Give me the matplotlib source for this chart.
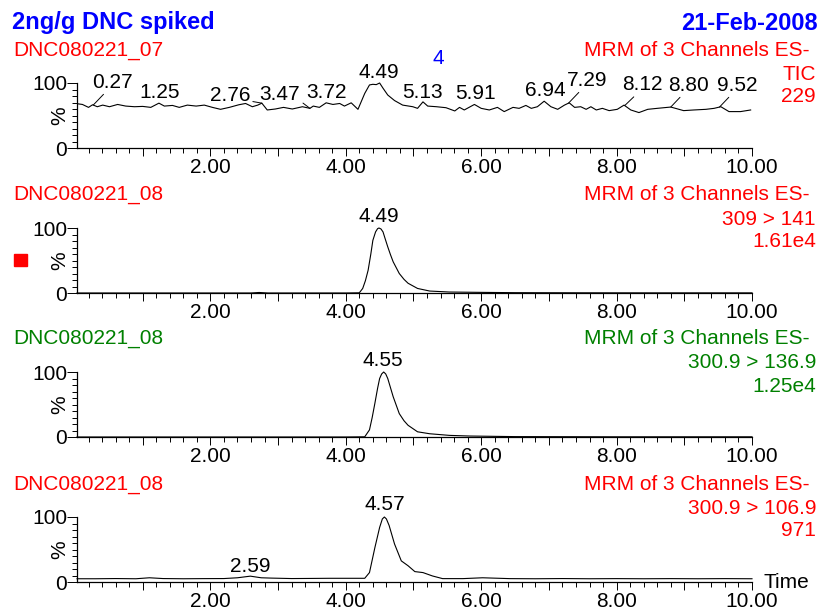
import numpy as np
import matplotlib
matplotlib.use("Agg")
import matplotlib.pyplot as plt
from matplotlib.ticker import MultipleLocator, FuncFormatter
from matplotlib.patches import Rectangle

plt.rcParams['font.family'] = ['Liberation Sans', 'DejaVu Sans']

# Header texts
title = "2ng/g DNC spiked"
date = "21-Feb-2008"
sample_no = "4"

# Panel info
files = ["DNC080221_07", "DNC080221_08", "DNC080221_08", "DNC080221_08"]
scan = "MRM of 3 Channels ES-"
channels = ["TIC", "309 > 141", "300.9 > 136.9", "300.9 > 106.9"]
intensity = ["229", "1.61e4", "1.25e4", "971"]
colors = ["#ff0000", "#ff0000", "#008000", "#ff0000"]

# Trace 1: TIC
t1 = [0.04, 0.11, 0.20, 0.26, 0.33, 0.41, 0.51, 0.63, 0.75, 0.88, 1.00, 1.12, 1.24, 1.32,
      1.44, 1.54, 1.66, 1.79, 1.91, 2.03, 2.15, 2.28, 2.42, 2.52, 2.62, 2.70, 2.76, 2.84,
      2.96, 3.08, 3.21, 3.36, 3.47, 3.52, 3.61, 3.71, 3.81, 3.91, 3.98, 4.08, 4.18, 4.28,
      4.35, 4.40, 4.45, 4.50, 4.55, 4.62, 4.72, 4.84, 4.99, 5.06, 5.14, 5.21, 5.34, 5.48, 5.61,
      5.68, 5.75, 5.90, 6.00, 6.12, 6.24, 6.34, 6.47, 6.56, 6.66, 6.74, 6.83, 6.93, 7.03,
      7.13, 7.23, 7.30, 7.38, 7.47, 7.55, 7.62, 7.70, 7.79, 7.89, 8.01, 8.11, 8.21, 8.33,
      8.46, 8.60, 8.75, 8.80, 8.87, 8.99, 9.14, 9.32, 9.44, 9.54, 9.66, 9.83, 9.98]
v1 = [68, 67, 62.5, 66.5, 63.5, 66, 63.5, 67, 64.5, 63.5, 64, 62.5, 69, 64.5,
      65.5, 62.5, 66, 64.5, 66, 62.5, 59.5, 62.5, 66.5, 68.5, 63.5, 66, 69, 58.5,
      60, 62.5, 60, 63.5, 61, 64.5, 62.5, 69.5, 67, 68.5, 64.5, 69.5, 59.5, 84,
      97, 98, 97.5, 100, 92, 81.5, 73, 66, 63.5, 61, 71, 64.5, 63.5, 62, 57,
      62.5, 58.5, 67, 61, 58.5, 62.5, 56, 62.5, 61, 65.5, 61, 63.5, 72, 63.5,
      59.5, 66, 69.5, 62.5, 63.5, 59.5, 63.5, 58.5, 61, 57.5, 59.5, 66, 58.5, 54.5,
      59.5, 61, 62.5, 63, 61, 57.5, 58.5, 59.5, 61, 63.5, 56, 56, 58.5]

# Trace 2: 309 > 141
t2 = [0.03, 1.0, 2.0, 2.6, 2.72, 2.85, 3.5, 4.0, 4.20, 4.25, 4.29, 4.33, 4.37, 4.40, 4.44,
      4.47, 4.49, 4.52, 4.55, 4.58, 4.62, 4.66, 4.70, 4.79, 4.86, 4.92, 5.06, 5.24, 5.53,
      5.97, 6.5, 7.5, 8.5, 10.0]
v2 = [0, 0, 0, 0, 0.8, 0, 0, 0, 0.3, 7, 19, 35, 60, 81, 94,
      99, 100, 98.5, 94, 84, 71, 59, 48, 30, 21, 15, 7, 3, 1.5,
      1, 0.5, 0.3, 0.2, 0.2]

# Trace 3: 300.9 > 136.9
t3 = [0.03, 2.0, 4.0, 4.28, 4.35, 4.39, 4.43, 4.47, 4.50, 4.53, 4.56, 4.59, 4.62, 4.66,
      4.70, 4.79, 4.86, 4.92, 5.06, 5.24, 5.53, 5.83, 6.5, 8.0, 10.0]
v3 = [0, 0, 0, 0.3, 11, 30, 52, 75, 90, 97, 100, 97, 90, 76,
      62, 36, 25, 18, 8, 5, 2.5, 1.5, 0.6, 0.3, 0.3]

# Trace 4: 300.9 > 106.9
t4 = [0.03, 0.3, 0.6, 0.9, 1.1, 1.3, 1.6, 1.9, 2.2, 2.4, 2.59, 2.75, 2.9, 3.2, 3.5, 3.76,
      4.06, 4.28, 4.35, 4.43, 4.50, 4.54, 4.57, 4.60, 4.64, 4.72, 4.82, 4.92, 5.02, 5.14,
      5.28, 5.43, 5.73, 6.02, 6.42, 6.8, 7.2, 7.6, 8.0, 8.4, 8.8, 9.2, 9.6, 10.0]
v4 = [5, 5, 5.3, 5, 6.5, 5.3, 5, 5.2, 5.3, 6.5, 9, 6.5, 6, 5.3, 5.5, 5.7,
      5.7, 5.7, 14.5, 53, 84, 97, 100, 97, 87, 58.5, 32.5, 25, 16, 14.5,
      9.3, 5.2, 5.2, 6.5, 5.2, 5, 5.3, 5, 5.2, 5, 5.2, 5, 5.2, 5]

times = [t1, t2, t3, t4]
values = [v1, v2, v3, v4]

# Peak labels (retention times) per panel
peaks = [
    [0.27, 1.25, 2.76, 3.47, 3.72, 4.49, 5.13, 5.91, 6.94, 7.29, 8.12, 8.80, 9.52],
    [4.49],
    [4.55],
    [2.59, 4.57],
]
# label offsets in pixels (dx, dy up); leader line when offset sideways
offsets = [
    [(19, 23), (0, 11), (-32, 8), (-30, 14), (0, 10), (0, 11), (0, 10), (0, 11),
     (0, 11), (19, 23), (18, 21), (18, 22), (18, 22)],
    [(0, 12)],
    [(0, 12)],
    [(0, 10), (0, 12)],
]

W, H = 823, 612
fig = plt.figure(figsize=(W / 100, H / 100), dpi=100)

left_px, right_px = 77, 752
tops = [83, 228, 372, 517]
hgt = 65
fs = 15

for i in range(4):
    ax = fig.add_axes([left_px / W, 1 - (tops[i] + hgt) / H, (right_px - left_px) / W, hgt / H])
    ax.plot(times[i], values[i], color='black', lw=0.8, clip_on=False)
    ax.set_xlim(0.03, 10.0)
    ax.set_ylim(0, 100)

    for s in ['top', 'right']:
        ax.spines[s].set_visible(False)
    for s in ['left', 'bottom']:
        ax.spines[s].set_linewidth(0.9)

    ax.xaxis.set_major_locator(MultipleLocator(1))
    ax.xaxis.set_minor_locator(MultipleLocator(0.2))
    ax.xaxis.set_major_formatter(FuncFormatter(
        lambda x, pos: f"{x:.2f}" if int(round(x)) % 2 == 0 and x > 0.5 else ""))
    ax.set_yticks([0, 100])
    ax.set_yticklabels(["0", "100"])
    ax.yaxis.set_minor_locator(MultipleLocator(10))

    ax.tick_params(axis='x', which='major', length=5.8, width=0.7, labelsize=fs, pad=1.5)
    ax.tick_params(axis='x', which='minor', length=3.6, width=0.7)
    ax.tick_params(axis='y', which='major', length=7.2, width=0.7, labelsize=fs, pad=0)
    ax.tick_params(axis='y', which='minor', length=3.6, width=0.7)

    ax.text(-17 / (right_px - left_px), 0.5, "%", transform=ax.transAxes, rotation=90,
            ha='center', va='center', fontsize=fs)

    # peak labels
    for p, (dx, dy) in zip(peaks[i], offsets[i]):
        yv = np.interp(p, times[i], values[i])
        if dx == 0:
            ax.annotate(f"{p:.2f}", xy=(p, yv), xytext=(dx, dy), textcoords='offset pixels',
                        ha='center', va='center', fontsize=fs, annotation_clip=False)
        else:
            rp = (0.35, 0.0) if dx > 0 else (0.97, 0.2)
            ax.annotate(f"{p:.2f}", xy=(p, yv), xytext=(dx, dy), textcoords='offset pixels',
                        ha='center', va='center', fontsize=fs, annotation_clip=False,
                        arrowprops=dict(arrowstyle='-', color='black', lw=0.7,
                                        shrinkA=0, shrinkB=0, relpos=rp))

    # file name and channel info
    ny = tops[i] - 33
    fig.text(13 / W, 1 - ny / H, files[i], color=colors[i], fontsize=fs, ha='left', va='center')
    fig.text(810 / W, 1 - ny / H, scan, color=colors[i], fontsize=fs, ha='right', va='center')
    fig.text(816 / W, 1 - (ny + 24) / H, channels[i], color=colors[i], fontsize=fs,
             ha='right', va='center')
    fig.text(816 / W, 1 - (ny + 47) / H, intensity[i], color=colors[i], fontsize=fs,
             ha='right', va='center')

# header
fig.text(12 / W, 1 - 22 / H, title, color='#0000ff', fontsize=17, fontweight='bold',
         ha='left', va='center')
fig.text(818 / W, 1 - 23 / H, date, color='#0000ff', fontsize=17, fontweight='bold',
         ha='right', va='center')
fig.text(438 / W, 1 - 58 / H, sample_no, color='#0000ff', fontsize=fs, ha='center', va='center')

# red marker next to panel 2
fig.add_artist(Rectangle((14 / W, 1 - 266 / H), 13 / W, 12 / H, transform=fig.transFigure,
                         color='#ff0000'))

fig.text(763 / W, 1 - 582 / H, "Time", fontsize=fs, ha='left', va='center')

fig.savefig("out.png", dpi=100)
